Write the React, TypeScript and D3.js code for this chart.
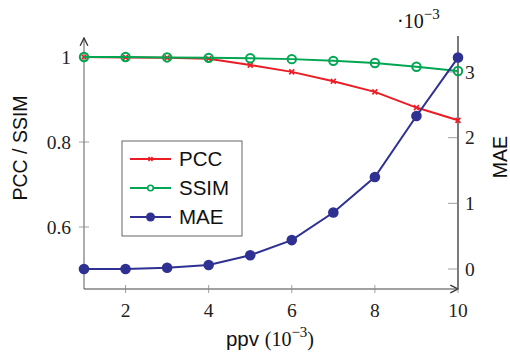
import React from "react";
import * as d3 from "d3";

const ppv = [1, 2, 3, 4, 5, 6, 7, 8, 9, 10];
const pcc = [1.0, 0.999, 0.998, 0.996, 0.981, 0.965, 0.943, 0.918, 0.881, 0.851];
const ssim = [1.0, 1.0, 0.999, 0.998, 0.997, 0.995, 0.991, 0.986, 0.977, 0.967];
const mae = [0.0, 0.0, 0.02, 0.06, 0.21, 0.44, 0.86, 1.4, 2.33, 3.22];
const xTicks = [2, 4, 6, 8, 10];
const yLTicks = [0.6, 0.8, 1];
const yRTicks = [0, 1, 2, 3];

const RED = "#ed1c24";
const GREEN = "#00a651";
const BLUE = "#2e3192";
const SERIF = "'Liberation Serif', 'DejaVu Serif', serif";
const SANS = "'Liberation Sans', Arial, sans-serif";

export default function App() {
  const x = d3.scaleLinear().domain([1, 10]).range([84, 458]);
  const yL = d3.scaleLinear().domain([0.6, 1]).range([227, 57]);
  const yR = d3.scaleLinear().domain([0, 3]).range([269, 72]);
  const bottom = 289;
  const top = 38;

  const lineL = d3.line<number>().x((_, i) => x(ppv[i])).y((d) => yL(d));
  const lineR = d3.line<number>().x((_, i) => x(ppv[i])).y((d) => yR(d));

  const cross = (cx: number, cy: number, key: string, s = 2.5) => (
    <g key={key} stroke={RED} strokeWidth={1.6}>
      <line x1={cx - s} y1={cy - s} x2={cx + s} y2={cy + s} />
      <line x1={cx - s} y1={cy + s} x2={cx + s} y2={cy - s} />
    </g>
  );

  return (
    <svg width={510} height={360} style={{ position: "absolute", left: 0, top: 0, background: "#fff" }}>
      <defs>
        <marker id="arr" viewBox="0 0 10 10" refX="9" refY="5" markerWidth="8" markerHeight="8" orient="auto">
          <path d="M1,1 L9,5 L1,9" fill="none" stroke="#333" strokeWidth={1.4} />
        </marker>
      </defs>
      {/* left axis */}
      <line x1={x(1)} y1={bottom} x2={x(1)} y2={top} stroke="#777" strokeWidth={1.2} markerEnd="url(#arr)" />
      {/* right axis */}
      <line x1={x(10)} y1={bottom} x2={x(10)} y2={36} stroke="#222" strokeWidth={1.2} />
      {/* bottom axis */}
      <line x1={x(1)} y1={bottom} x2={x(10)} y2={bottom} stroke="#444" strokeWidth={1.2} markerEnd="url(#arr)" />

      {xTicks.map((t) => (
        <g key={"xt" + t}>
          <line x1={x(t)} x2={x(t)} y1={bottom - 4} y2={bottom + 4} stroke="#888" strokeWidth={0.8} />
          <text x={x(t)} y={317} textAnchor="middle" fontFamily={SERIF} fontSize={19.5} fill="#222">{t}</text>
        </g>
      ))}
      {yLTicks.map((t) => (
        <g key={"yl" + t}>
          <line x1={x(1) - 5} x2={x(1) + 5} y1={yL(t)} y2={yL(t)} stroke="#888" strokeWidth={0.8} />
          <text x={71} y={yL(t)} dy="0.35em" textAnchor="end" fontFamily={SERIF} fontSize={19.5} fill="#222">{String(t)}</text>
        </g>
      ))}
      {yRTicks.map((t) => (
        <g key={"yr" + t}>
          <line x1={x(10) - 10} x2={x(10)} y1={yR(t)} y2={yR(t)} stroke="#888" strokeWidth={0.8} />
          <text x={465} y={yR(t)} dy="0.35em" textAnchor="start" fontFamily={SERIF} fontSize={19.5} fill="#222">{t}</text>
        </g>
      ))}

      {/* series */}
      <path d={lineL(pcc) || ""} fill="none" stroke={RED} strokeWidth={2} />
      {pcc.map((d, i) => cross(x(ppv[i]), yL(d), "p" + i))}
      <path d={lineL(ssim) || ""} fill="none" stroke={GREEN} strokeWidth={2} />
      {ssim.map((d, i) => (
        <circle key={"s" + i} cx={x(ppv[i])} cy={yL(d)} r={4.2} fill="none" stroke={GREEN} strokeWidth={2} />
      ))}
      <path d={lineR(mae) || ""} fill="none" stroke={BLUE} strokeWidth={2} />
      {mae.map((d, i) => (
        <circle key={"m" + i} cx={x(ppv[i])} cy={yR(d)} r={5.3} fill={BLUE} />
      ))}

      {/* legend */}
      <rect x={122} y={141} width={120} height={95} fill="#fff" stroke="#555" strokeWidth={0.9} />
      {[
        { name: "PCC", color: RED, y: 159 },
        { name: "SSIM", color: GREEN, y: 188 },
        { name: "MAE", color: BLUE, y: 217 },
      ].map((e, i) => (
        <g key={"lg" + i}>
          <line x1={130} x2={171} y1={e.y} y2={e.y} stroke={e.color} strokeWidth={2} />
          {i === 0 && cross(150.5, e.y, "lgp", 2)}
          {i === 1 && <circle cx={150.5} cy={e.y} r={2.8} fill="#fff" stroke={GREEN} strokeWidth={1.6} />}
          {i === 2 && <circle cx={150.5} cy={e.y} r={4.5} fill={BLUE} />}
          <text x={179} y={e.y} dy="0.36em" fontFamily={SANS} fontSize={20.5} fill="#111">{e.name}</text>
        </g>
      ))}

      {/* axis labels */}
      <text transform="translate(27,148) rotate(-90)" textAnchor="middle" fontFamily={SANS} fontSize={19.5} fill="#111">PCC / SSIM</text>
      <text transform="translate(507,157) rotate(-90)" textAnchor="middle" fontFamily={SANS} fontSize={19.5} fill="#111">MAE</text>
      <text x={270} y={346} textAnchor="middle" fill="#111">
        <tspan fontFamily={SANS} fontSize={20.5}>ppv </tspan>
        <tspan fontFamily={SERIF} fontSize={20}>(10</tspan>
        <tspan fontFamily={SERIF} fontSize={15} dy={-9}>−3</tspan>
        <tspan fontFamily={SERIF} fontSize={20} dy={9}>)</tspan>
      </text>
      <text x={397} y={28} fill="#111" fontFamily={SERIF}>
        <tspan fontSize={20}>·10</tspan>
        <tspan fontSize={15} dy={-9}>−3</tspan>
      </text>
    </svg>
  );
}
